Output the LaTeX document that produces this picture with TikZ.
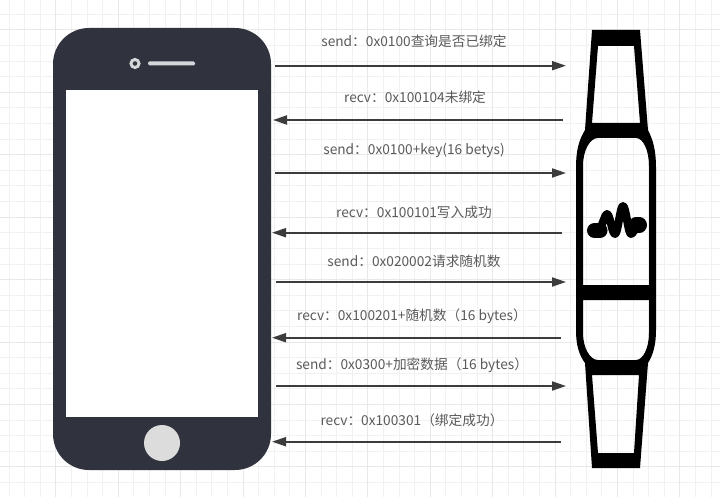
\documentclass[tikz,border=0pt]{standalone}
\usepackage{fontspec}
\setmainfont{Noto Sans CJK SC}
\usetikzlibrary{arrows.meta}
\definecolor{phonecol}{HTML}{30333D}
\definecolor{gridminor}{HTML}{F1F1F1}
\definecolor{gridmajor}{HTML}{E8E8E8}
\definecolor{arrowcol}{HTML}{3C3C3C}
\definecolor{textcol}{HTML}{5A5A5A}
\definecolor{HTMLlight}{HTML}{D3D7DA}
\definecolor{HTMLbtn}{HTML}{DCDCDC}
\tikzset{
  msg/.style={draw=arrowcol,line width=2pt,-{Triangle[length=14pt,width=9pt]}},
  lbl/.style={text=textcol,font=\fontsize{13.7}{16}\selectfont,inner sep=0pt,anchor=center},
  phonebody/.style={fill=phonecol,rounded corners=36pt,minimum width=218pt,minimum height=442pt,inner sep=0pt},
  phonescreen/.style={fill=white,minimum width=192pt,minimum height=327pt,inner sep=0pt},
  cam/.style={circle,fill=phonecol,draw=HTMLlight,line width=3pt,minimum size=8pt,inner sep=0pt},
  homebtn/.style={circle,fill=HTMLbtn,minimum size=36pt,inner sep=0pt},
  speaker/.style={fill=HTMLlight,rounded corners=1.5pt,minimum width=47pt,minimum height=4pt,inner sep=0pt},
}
\begin{document}
\begin{tikzpicture}[x=1pt,y=-1pt]
\useasboundingbox (0,0) rectangle (720,497);
\fill[white] (0,0) rectangle (720,497);
% grid
\foreach \k in {0,...,45}{
  \pgfmathsetmacro{\gx}{9.1+15.6*\k}
  \draw[gridminor,line width=1pt] (\gx,0) -- (\gx,497);
}
\foreach \k in {0,...,31}{
  \pgfmathsetmacro{\gy}{14.4+15.6*\k}
  \draw[gridminor,line width=1pt] (0,\gy) -- (720,\gy);
}
\foreach \k in {0,...,11}{
  \pgfmathsetmacro{\gx}{55.9+62.4*\k}
  \draw[gridmajor,line width=1pt] (\gx,0) -- (\gx,497);
}
\foreach \k in {0,...,7}{
  \pgfmathsetmacro{\gy}{30+62.4*\k}
  \draw[gridmajor,line width=1pt] (0,\gy) -- (720,\gy);
}
% phone
\node[phonebody] (phone) at (162,249) {};
\node[phonescreen] (screen) at (162,253.5) {};
\node[cam] (camera) at (135,63.5) {};
\node[speaker] (spk) at (171.5,63.5) {};
\node[homebtn] (home) at (162,443) {};
% band
\fill[black,even odd rule]
  (592,30) -- (640,30) -- (648,130) .. controls (653,140) and (656,150) .. (656,168)
  -- (656,330) .. controls (656,345) and (653,355) .. (648,363)
  -- (640,468) -- (592,468) -- (585,363)
  .. controls (579,355) and (576,345) .. (576,330)
  -- (576,168) .. controls (576,150) and (579,140) .. (585,130) -- cycle
  (598,46) -- (634,46) -- (640,123) -- (592,123) -- cycle
  (583,166) .. controls (583,150) and (590,138) .. (598,138) -- (636,138)
  .. controls (643,138) and (649,150) .. (649,166) -- (649,285) -- (583,285) -- cycle
  (583,300) -- (649,300) -- (649,333) .. controls (649,348) and (643,360) .. (636,360)
  -- (598,360) .. controls (590,360) and (583,348) .. (583,333) -- cycle
  (592,375) -- (639,375) -- (634,453) -- (598,453) -- cycle;
% pulse
\draw[black,line width=15pt,line cap=round] (594.5,230.5) -- (600,230.5);
\draw[black,line width=15pt,line cap=round] (636,225) -- (639.5,225);
\draw[black,line width=8pt,line cap=round,line join=round]
  (600,228) .. controls (603,224) and (605,214) .. (607,214)
  .. controls (610,214) and (612,234) .. (615,234)
  .. controls (618,234) and (620,206) .. (623,206)
  .. controls (626,206) and (628,234) .. (631,234)
  .. controls (633,234) and (635,228) .. (638,226);
% connector ends
\coordinate (a1) at (275,65.7); \coordinate (b1) at (566,65.7);
\coordinate (a2) at (563,120);  \coordinate (b2) at (273,120);
\coordinate (a3) at (275,173);  \coordinate (b3) at (566,173);
\coordinate (a4) at (562,232.7);\coordinate (b4) at (272,232.7);
\coordinate (a5) at (276,282);  \coordinate (b5) at (566,282);
\coordinate (a6) at (561,337.7);\coordinate (b6) at (272,337.7);
\coordinate (a7) at (276,386);  \coordinate (b7) at (566,386);
\coordinate (a8) at (561,441.7);\coordinate (b8) at (272,441.7);
\foreach \i in {1,...,8}{ \draw[msg] (a\i) -- (b\i); }
% labels
\node[lbl] (t1) at (414,41) {send：0x0100查询是否已绑定};
\node[lbl] (t2) at (415,97) {recv：0x100104未绑定};
\node[lbl] (t3) at (414,151) {send：0x0100+key(16 betys)};
\node[lbl] (t4) at (414,212) {recv：0x100101写入成功};
\node[lbl] (t5) at (414,261) {send：0x020002请求随机数};
\node[lbl] (t6) at (412,316) {recv：0x100201+随机数（16 bytes）};
\node[lbl] (t7) at (412,365) {send：0x0300+加密数据（16 bytes）};
\node[lbl] (t8) at (412,420) {recv：0x100301（绑定成功）};
\end{tikzpicture}
\end{document}
